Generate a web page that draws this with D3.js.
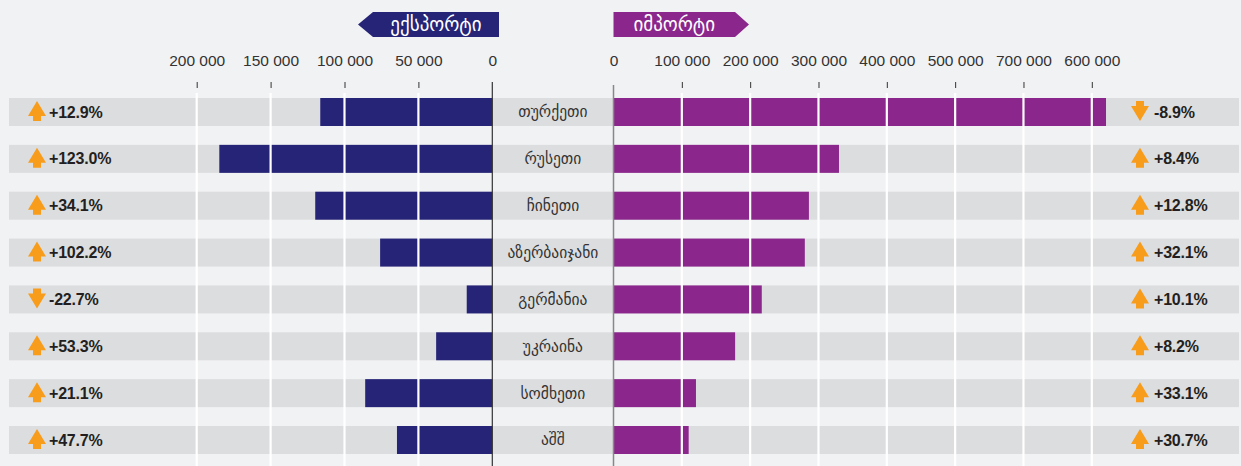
<!DOCTYPE html>
<html>
<head>
<meta charset="utf-8">
<script src="https://cdn.jsdelivr.net/npm/d3@7"></script>
<style>
  body { margin: 0; background: #f1f2f4; }
  svg { display: block; }
</style>
</head>
<body>
<svg width="1241" height="466"></svg>
<script>
// Countries, top to bottom
const countries = ["თურქეთი", "რუსეთი", "ჩინეთი", "აზერბაიჯანი", "გერმანია", "უკრაინა", "სომხეთი", "აშშ"];

// Export and import values
const exportValues = [116400, 184700, 119800, 75900, 17300, 38000, 86000, 64500];
const importValues = [720800, 330000, 286000, 280000, 217000, 178000, 120700, 110000];

// Change in percent (left = export, right = import)
const exportChange = [12.9, 123.0, 34.1, 102.2, -22.7, 53.3, 21.1, 47.7];
const importChange = [-8.9, 8.4, 12.8, 32.1, 10.1, 8.2, 33.1, 30.7];

// Axis ticks and labels as printed on the chart
const exportTicks = [200000, 150000, 100000, 50000, 0];
const importTicks = [0, 100000, 200000, 300000, 400000, 500000, 600000, 700000];
const importTickLabels = ["0", "100 000", "200 000", "300 000", "400 000", "500 000", "700 000", "600 000"];

const exportTitle = "ექსპორტი";
const importTitle = "იმპორტი";

const navy = "#262477", purple = "#8b278c", orange = "#f89c1c";
const geoFont = "'DejaVu Sans', sans-serif";
const numFont = "'Liberation Sans', Arial, sans-serif";

const locale = d3.formatLocale({ decimal: ".", thousands: " ", grouping: [3], currency: ["", ""], minus: "-" });
const fmtNum = locale.format(",");
const fmtPct = v => locale.format("+.1f")(v) + "%";

const svg = d3.select("svg");

const xExp = d3.scaleLinear().domain([0, 200000]).range([492.3, 196.7]);
const xImp = d3.scaleLinear().domain([0, 700000]).range([613.5, 1091.8]);
const y = d3.scaleBand().domain(countries).range([98, 454]).paddingInner(0.4024);
const midX = (xExp(0) + xImp(0)) / 2;

// row bands
svg.append("g")
    .selectAll("rect")
    .data(countries)
    .join("rect")
    .attr("x", 9)
    .attr("width", 1230)
    .attr("y", d => y(d))
    .attr("height", y.bandwidth())
    .attr("fill", "#dcdddf");

// bars
svg.append("g")
    .selectAll("rect")
    .data(countries)
    .join("rect")
    .attr("x", (d, i) => xExp(exportValues[i]))
    .attr("width", (d, i) => xExp(0) - xExp(exportValues[i]))
    .attr("y", d => y(d))
    .attr("height", y.bandwidth())
    .attr("fill", navy);

svg.append("g")
    .selectAll("rect")
    .data(countries)
    .join("rect")
    .attr("x", xImp(0))
    .attr("width", (d, i) => xImp(importValues[i]) - xImp(0))
    .attr("y", d => y(d))
    .attr("height", y.bandwidth())
    .attr("fill", purple);

// white grid lines
svg.append("g")
    .selectAll("line")
    .data(exportTicks.filter(t => t > 0))
    .join("line")
    .attr("x1", d => xExp(d)).attr("x2", d => xExp(d))
    .attr("y1", 93).attr("y2", 466)
    .attr("stroke", "#fff").attr("stroke-width", 2.2);

svg.append("g")
    .selectAll("line")
    .data(importTicks.filter(t => t > 0))
    .join("line")
    .attr("x1", d => xImp(d)).attr("x2", d => xImp(d))
    .attr("y1", 93).attr("y2", 466)
    .attr("stroke", "#fff").attr("stroke-width", 2.2);

// zero lines
svg.append("line")
    .attr("x1", xExp(0)).attr("x2", xExp(0))
    .attr("y1", 82).attr("y2", 466)
    .attr("stroke", "#333").attr("stroke-width", 1.2);
svg.append("line")
    .attr("x1", xImp(0)).attr("x2", xImp(0))
    .attr("y1", 85).attr("y2", 466)
    .attr("stroke", "#888").attr("stroke-width", 1.5);

// axes
function styleAxis(g) {
    g.select(".domain").remove();
    g.selectAll(".tick line").attr("stroke", "#333");
    g.selectAll(".tick text")
        .attr("fill", "#333")
        .style("font-family", numFont)
        .style("font-size", "15.5px");
}

svg.append("g")
    .attr("transform", "translate(0,88)")
    .call(d3.axisTop(xExp).tickValues(exportTicks).tickSize(6).tickPadding(16).tickFormat(fmtNum))
    .call(styleAxis)
    .call(g => g.selectAll(".tick").filter(d => d === 0).select("line").remove());

svg.append("g")
    .attr("transform", "translate(0,88)")
    .call(d3.axisTop(xImp).tickValues(importTicks).tickSize(6).tickPadding(16)
        .tickFormat((d, i) => importTickLabels[i]))
    .call(styleAxis)
    .call(g => g.selectAll(".tick").filter(d => d === 0).select("line").remove());

// header tags
const tagTop = 12, tagH = 25;
const expL = 373, expR = 499, impL = xImp(0), impR = 735;
svg.append("path")
    .attr("d", `M${expL},${tagTop} L${expR},${tagTop} L${expR},${tagTop + tagH} L${expL},${tagTop + tagH} L${expL - 15},${tagTop + tagH / 2} Z`)
    .attr("fill", navy);
svg.append("text")
    .attr("x", (expL + expR) / 2).attr("y", tagTop + tagH / 2)
    .attr("dy", "0.36em")
    .attr("text-anchor", "middle")
    .attr("fill", "#fff")
    .style("font-family", geoFont)
    .style("font-size", "19px")
    .text(exportTitle);

svg.append("path")
    .attr("d", `M${impL},${tagTop} L${impR},${tagTop} L${impR + 14},${tagTop + tagH / 2} L${impR},${tagTop + tagH} L${impL},${tagTop + tagH} Z`)
    .attr("fill", purple);
svg.append("text")
    .attr("x", (impL + impR) / 2).attr("y", tagTop + tagH / 2)
    .attr("dy", "0.36em")
    .attr("text-anchor", "middle")
    .attr("fill", "#fff")
    .style("font-family", geoFont)
    .style("font-size", "19px")
    .text(importTitle);

// country labels
svg.append("g")
    .selectAll("text")
    .data(countries)
    .join("text")
    .attr("x", midX)
    .attr("y", d => y(d) + y.bandwidth() / 2)
    .attr("dy", "0.35em")
    .attr("text-anchor", "middle")
    .attr("fill", "#333")
    .style("font-family", geoFont)
    .style("font-size", "15.5px")
    .text(d => d);

// arrow + percent change
function arrowPath(cx, cy, up) {
    const s = up ? 1 : -1;
    return `M${cx},${cy - 10 * s} L${cx + 9},${cy + 5 * s} L${cx + 4},${cy + 5 * s} L${cx + 4},${cy + 10 * s}` +
        ` L${cx - 4},${cy + 10 * s} L${cx - 4},${cy + 5 * s} L${cx - 9},${cy + 5 * s} Z`;
}

function changeColumn(values, arrowX, textX) {
    const g = svg.append("g");
    g.selectAll("path")
        .data(countries)
        .join("path")
        .attr("d", (d, i) => arrowPath(arrowX, y(d) + y.bandwidth() / 2 - 1, values[i] >= 0))
        .attr("fill", orange);
    g.selectAll("text")
        .data(countries)
        .join("text")
        .attr("x", textX)
        .attr("y", d => y(d) + y.bandwidth() / 2)
        .attr("dy", "0.35em")
        .attr("fill", "#231f20")
        .style("font-family", numFont)
        .style("font-size", "16px")
        .style("font-weight", "bold")
        .style("letter-spacing", "-0.2px")
        .text((d, i) => fmtPct(values[i]));
}

changeColumn(exportChange, 37, 49);
changeColumn(importChange, 1140, 1154);
</script>
</body>
</html>
